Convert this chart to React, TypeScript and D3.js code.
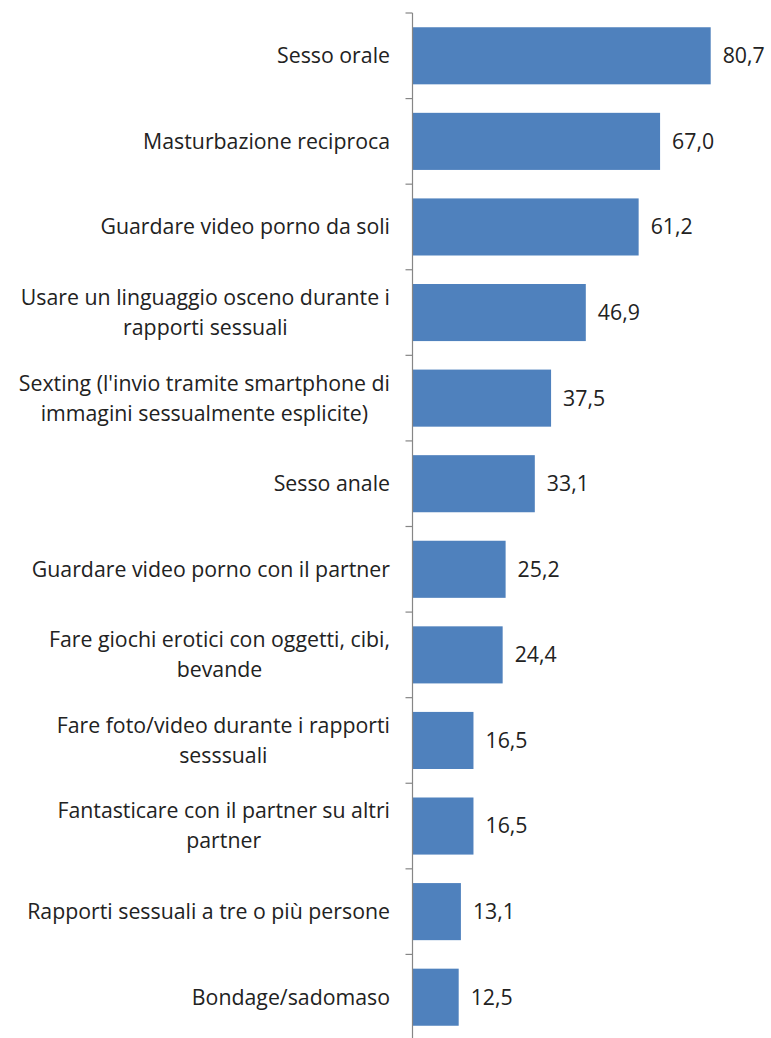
import React, { useEffect, useRef } from "react";
import * as d3 from "d3";

const categories: string[][] = [
  ["Sesso orale"],
  ["Masturbazione reciproca"],
  ["Guardare video porno da soli"],
  ["Usare un linguaggio osceno durante i", "rapporti sessuali"],
  ["Sexting (l'invio tramite smartphone di", "immagini sessualmente esplicite)"],
  ["Sesso anale"],
  ["Guardare video porno con il partner"],
  ["Fare giochi erotici con oggetti, cibi,", "bevande"],
  ["Fare foto/video durante i rapporti", "sesssuali"],
  ["Fantasticare con il partner su altri", "partner"],
  ["Rapporti sessuali a tre o più persone"],
  ["Bondage/sadomaso"],
];
const values: number[] = [80.7, 67.0, 61.2, 46.9, 37.5, 33.1, 25.2, 24.4, 16.5, 16.5, 13.1, 12.5];

const W = 771;
const H = 1038;

export default function App() {
  const ref = useRef<SVGSVGElement | null>(null);
  useEffect(() => {
    const svg = d3.select(ref.current);
    svg.selectAll("*").remove();
    const axisX = 412.5;
    const idx = values.map((_, i) => String(i));
    const y = d3.scaleBand<string>().domain(idx).range([13, 1040]).paddingInner(0.333).paddingOuter(0.1665);
    const x = d3.scaleLinear().domain([0, 80.7]).range([axisX, 710.7]);
    const font = "'Open Sans', sans-serif";
    const fs = 21.3;

    svg.append("g").selectAll("rect").data(values).join("rect")
      .attr("x", x(0))
      .attr("y", (_, i) => y(String(i))!)
      .attr("width", (d) => x(d) - x(0))
      .attr("height", y.bandwidth())
      .attr("fill", "#4F81BD");

    // axis line and ticks
    const g = svg.append("g").attr("stroke", "#868686").attr("stroke-width", 1.2);
    g.append("line").attr("x1", axisX).attr("x2", axisX).attr("y1", 13).attr("y2", H);
    const step = y.step();
    const bounds = d3.range(0, values.length + 1).map((i) => 13 + i * step);
    g.selectAll("line.t").data(bounds).join("line").attr("class", "t")
      .attr("x1", axisX - 7).attr("x2", axisX).attr("y1", (d) => d).attr("y2", (d) => d);

    // value labels
    svg.append("g").selectAll("text").data(values).join("text")
      .attr("x", (d) => x(d) + 12)
      .attr("y", (_, i) => y(String(i))! + y.bandwidth() / 2)
      .attr("dy", "0.35em")
      .attr("font-family", font)
      .attr("font-size", fs)
      .attr("fill", "#222")
      .text((d) => d3.format(".1f")(d).replace(".", ","));

    // category labels (centered multi-line, right-aligned block)
    const right = 390;
    const lh = 30;
    categories.forEach((lines, i) => {
      const cy = y(String(i))! + y.bandwidth() / 2;
      const tg = svg.append("g");
      const texts = lines.map((l, j) =>
        tg.append("text")
          .attr("font-family", font)
          .attr("font-size", fs)
          .attr("fill", "#222")
          .attr("text-anchor", "middle")
          .attr("dy", "0.35em")
          .attr("y", cy + (j - (lines.length - 1) / 2) * lh)
          .text(l)
      );
      const maxW = d3.max(texts, (t) => (t.node() as SVGTextElement).getComputedTextLength()) || 0;
      texts.forEach((t) => t.attr("x", right - maxW / 2));
    });
  }, []);
  return (
    <svg ref={ref} width={W} height={H} style={{ position: "absolute", left: 0, top: 0, background: "#fff" }} />
  );
}
